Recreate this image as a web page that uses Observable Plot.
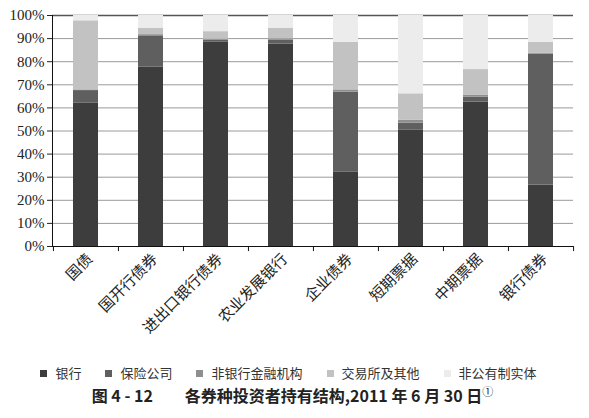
<!DOCTYPE html>
<html><head><meta charset="utf-8">
<script src="https://cdn.jsdelivr.net/npm/d3@7"></script>
<script src="https://cdn.jsdelivr.net/npm/@observablehq/plot@0.6"></script>
<style>
body{margin:0;background:#fff;width:589px;overflow:hidden;}
#legend{display:flex;justify-content:center;gap:24px;height:22px;align-items:center;font-family:'Liberation Serif','Noto Sans CJK SC',serif;font-size:13px;color:#333;margin-right:12px;margin-top:-1px;}
#legend span.sw{display:inline-block;width:7px;height:7px;margin-right:8px;vertical-align:middle;position:relative;top:-1px;}
#caption{text-align:center;font-family:'Noto Sans CJK SC',sans-serif;font-weight:bold;font-size:16px;color:#222;margin-top:0px;margin-left:-4px;}
</style>
</head><body>
<div id="chart"></div>
<div id="legend"></div>
<div id="caption"></div>
<script>
const categories = ["国债","国开行债券","进出口银行债券","农业发展银行","企业债券","短期票据","中期票据","银行债券"];
const seriesNames = ["银行","保险公司","非银行金融机构","交易所及其他","非公有制实体"];
const bank      = [62.0, 77.6, 88.4, 87.6, 32.3, 50.3, 62.5, 26.6];
const insurance = [ 5.5, 13.6,  1.0,  1.8, 34.5,  3.1,  2.2, 56.7];
const nonBank   = [ 0.3,  0.5,  0.3,  0.5,  1.0,  1.2,  0.7,  0.3];
const exchange  = [29.9,  2.8,  3.3,  4.6, 20.6, 11.5, 11.2,  4.8];
const nonPublic = [ 2.3,  5.5,  7.0,  5.5, 11.6, 33.9, 23.4, 11.6];
const seriesColors = ["#3d3d3d","#5f5f5f","#8f8f8f","#c2c2c2","#ececec"];
const yTickValues = [0,0.1,0.2,0.3,0.4,0.5,0.6,0.7,0.8,0.9,1];
const captionText = "图 4 - 12　　各券种投资者持有结构,2011 年 6 月 30 日";

const seriesValues = [bank, insurance, nonBank, exchange, nonPublic];
const data = [];
categories.forEach((c, i) => {
  seriesNames.forEach((s, j) => data.push({category: c, series: s, value: seriesValues[j][i]}));
});

const W = 589, H = 362, mL = 52, mR = 16, mT = 15, mB = 116;
const step = (W - mL - mR) / categories.length;
const font = "'Liberation Serif','Noto Sans CJK SC',serif";

const chart = Plot.plot({
  width: W, height: H,
  marginLeft: mL, marginRight: mR, marginTop: mT, marginBottom: mB,
  style: {fontFamily: font, fontSize: "13px", color: "#222", background: "#fff"},
  x: {domain: categories, paddingInner: 0.62, paddingOuter: 0.31, axis: null, label: null},
  y: {domain: [0, 1], axis: null, label: null},
  color: {domain: seriesNames, range: seriesColors},
  marks: [
    Plot.gridY(yTickValues, {stroke: "#9a9a9a", strokeOpacity: 1}),
    Plot.ruleY([1], {stroke: "#555", strokeWidth: 1.3}),
    Plot.barY(data, Plot.stackY({x: "category", y: "value", fill: "series", offset: "normalize"})),
    Plot.axisY(yTickValues, {label: null, tickFormat: d => Math.round(d * 100) + "%", tickSize: 5, tickPadding: 3, fontSize: 15, stroke: "#222", fill: "#222"}),
    Plot.axisX({label: null, tickSize: 0, tickRotate: -45, tickPadding: 10, dx: 4, fontSize: 15, fill: "#222", fontFamily: "'Noto Sans CJK SC',serif"}),
    Plot.frame({anchor: "left", stroke: "#111"}),
    Plot.ruleY([0], {stroke: "#111"}),
    Plot.ruleX(categories, {x: d => d, dx: -step / 2, y1: 0, y2: -0.022, stroke: "#111"}),
    Plot.ruleX(categories.slice(-1), {x: d => d, dx: step / 2, y1: 0, y2: -0.022, stroke: "#111"})
  ]
});
document.getElementById("chart").appendChild(chart);

const legend = document.getElementById("legend");
seriesNames.forEach((s, j) => {
  const item = document.createElement("span");
  const sw = document.createElement("span");
  sw.className = "sw";
  sw.style.background = seriesColors[j];
  item.appendChild(sw);
  item.appendChild(document.createTextNode(s));
  legend.appendChild(item);
});
const cap = document.getElementById("caption");
cap.textContent = captionText;
const sup = document.createElement("sup");
sup.textContent = "①";
sup.style.fontWeight = "normal";
sup.style.fontSize = "11px";
cap.appendChild(sup);
</script>
</body></html>
